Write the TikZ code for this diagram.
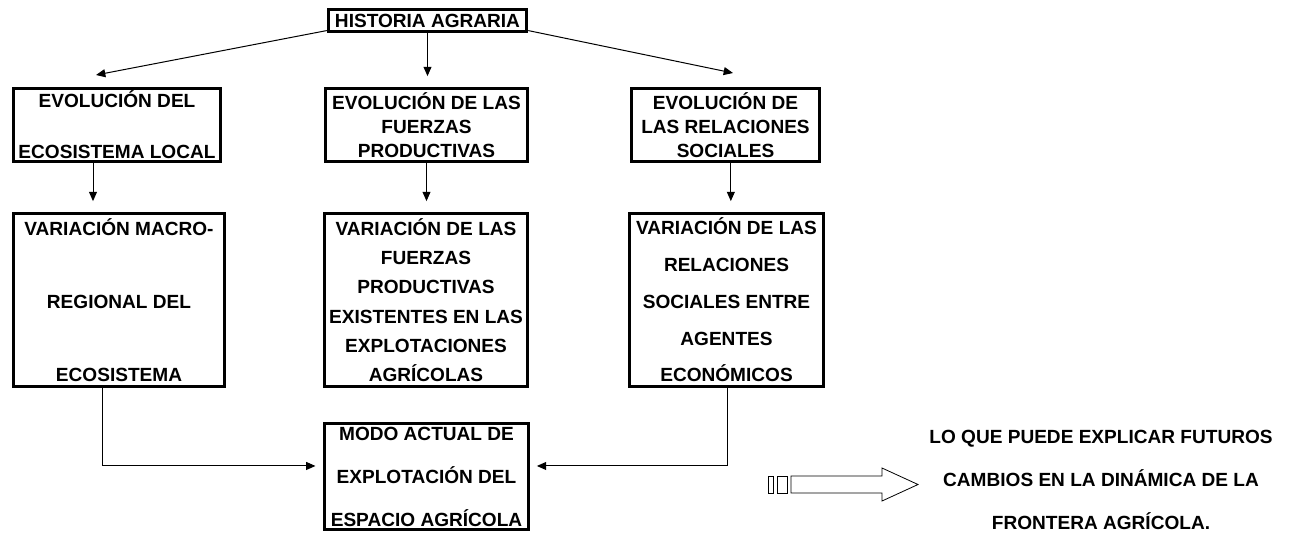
\documentclass[tikz,border=0pt]{standalone}
\usepackage{fontspec}
\setmainfont{Liberation Sans}
\usetikzlibrary{arrows.meta}

\begin{document}
\begin{tikzpicture}[x=0.75pt, y=-0.75pt,
        caja/.style={rectangle, draw, line width=2.6pt, align=center, inner sep=0pt,
          font=\bfseries\fontsize{14.3}{#1}\selectfont},
        texto/.style={align=center, inner sep=0pt, font=\bfseries\fontsize{14.3}{#1}\selectfont},
        flecha/.style={-{Triangle[length=7pt,width=6pt]}, line width=0.75pt},
        hueca/.style={line width=0.6pt},
      ]
      \useasboundingbox (0,0) rectangle (1301,533);

      %Nodes
      \node[caja=17, minimum width=148.5pt, minimum height=16.5pt] (hist) at (427.5,20.5) {HISTORIA AGRARIA};

      \node[caja=38.25, minimum width=155.25pt, minimum height=54.75pt] (ev1) at (117,125) {EVOLUCIÓN DEL\\ECOSISTEMA LOCAL};
      \node[caja=18, minimum width=151.5pt, minimum height=54.75pt] (ev2) at (426.5,125) {EVOLUCIÓN DE LAS\\FUERZAS\\PRODUCTIVAS};
      \node[caja=18, minimum width=141pt, minimum height=54.75pt] (ev3) at (725.5,125) {EVOLUCIÓN DE\\LAS RELACIONES\\SOCIALES};

      \node[caja=55, minimum width=158.25pt, minimum height=129.75pt] (var1) at (119,300) {VARIACIÓN MACRO-\\REGIONAL DEL\\ECOSISTEMA};
      \node[caja=22, minimum width=152.25pt, minimum height=129.75pt] (var2) at (426,300) {VARIACIÓN DE LAS\\FUERZAS\\PRODUCTIVAS\\EXISTENTES EN LAS\\EXPLOTACIONES\\AGRÍCOLAS};
      \node[caja=27.6, minimum width=145.5pt, minimum height=129.75pt] (var3) at (726.5,300) {VARIACIÓN DE LAS\\RELACIONES\\SOCIALES ENTRE\\AGENTES\\ECONÓMICOS};

      \node[caja=32.25, minimum width=153pt, minimum height=79.5pt] (modo) at (426.5,476.5) {MODO ACTUAL DE\\EXPLOTACIÓN DEL\\ESPACIO AGRÍCOLA};

      \node[texto=32.25] (frase) at (1101,480) {LO QUE PUEDE EXPLICAR FUTUROS\\CAMBIOS EN LA DINÁMICA DE LA\\FRONTERA AGRÍCOLA.};

      \coordinate (t1) at (96,75);
      \coordinate (t3) at (733,73);

      %Lines
      \draw[flecha] ([yshift=2pt]hist.south west) -- (t1);
      \draw[flecha, shorten >=8pt] (hist.south) -- (hist.south |- ev2.north);
      \draw[flecha] ([yshift=2pt]hist.south east) -- (t3);

      \draw[flecha, shorten >=8pt] ([xshift=-18pt]ev1.south) -- ([xshift=-18pt]ev1.south |- var1.north);
      \draw[flecha, shorten >=8pt] (ev2.south) -- (ev2.south |- var2.north);
      \draw[flecha, shorten >=8pt] ([xshift=4pt]ev3.south) -- ([xshift=4pt]ev3.south |- var3.north);

      \draw[flecha, shorten >=5.5pt] ([xshift=-12.75pt]var1.south) |- ([yshift=7.9pt]modo.west);
      \draw[flecha, shorten >=5pt] ([xshift=1.1pt]var3.south) |- ([yshift=7.9pt]modo.east);

      %Hollow arrow
      \draw[hueca] (768,476) rectangle (773,493);
      \draw[hueca] (777,476) rectangle (787,493);
      \draw[hueca] (791,476) -- (882,476) -- (882,468) -- (918,484.5) -- (882,501) -- (882,493) -- (791,493) -- cycle;
    \end{tikzpicture}
\end{document}
